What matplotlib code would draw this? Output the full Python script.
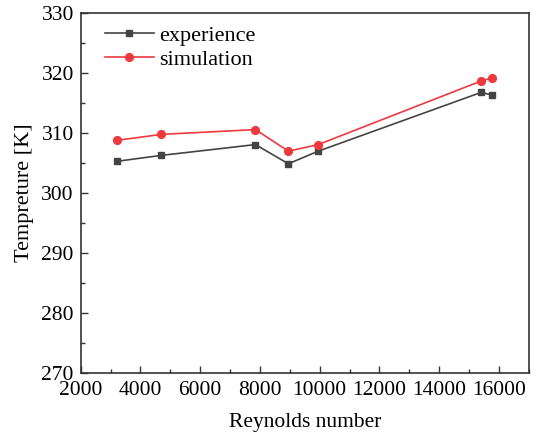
import numpy as np
import matplotlib.pyplot as plt
from matplotlib.ticker import MultipleLocator

# data
reynolds = [3200, 4700, 7850, 8950, 9950, 15400, 15750]
t_experience = [305.3, 306.3, 308.1, 304.9, 307.0, 316.8, 316.4]
t_simulation = [308.8, 309.8, 310.6, 307.0, 308.1, 318.7, 319.2]

plt.rcParams['font.family'] = ['Liberation Serif', 'DejaVu Serif']

fig = plt.figure(figsize=(5.38, 4.43), dpi=100)
ax = fig.add_axes([0.150, 0.158, 0.833, 0.812])

ax.plot(reynolds, t_experience, color='#444444', marker='s', markersize=4.8,
        linewidth=1.2, label='experience')
ax.plot(reynolds, t_simulation, color='#ee3a3f', marker='o', markersize=5.6,
        linewidth=1.2, label='simulation')

ax.set_xlim(2000, 17000)
ax.set_ylim(270, 330)
ax.xaxis.set_major_locator(MultipleLocator(2000))
ax.xaxis.set_minor_locator(MultipleLocator(1000))
ax.yaxis.set_major_locator(MultipleLocator(10))
ax.yaxis.set_minor_locator(MultipleLocator(5))
ax.tick_params(which='both', direction='in', labelsize=15.5, color='#333333')
ax.tick_params(which='major', length=5, width=1)
ax.tick_params(which='minor', length=3, width=1)
ax.tick_params(axis='x', pad=6)
ax.tick_params(axis='y', pad=5)
for s in ax.spines.values():
    s.set_linewidth(1.2)
    s.set_color('#333333')

ax.set_xlabel('Reynolds number', fontsize=15.5, labelpad=9)
ax.set_ylabel('Tempreture [K]', fontsize=16, labelpad=5)

ax.legend(loc='upper left', bbox_to_anchor=(0.027, 1.0), frameon=False,
          fontsize=16, handlelength=2.2, borderaxespad=0.14,
          labelspacing=0.14, handletextpad=0.25)

fig.savefig('out.png', dpi=100)
